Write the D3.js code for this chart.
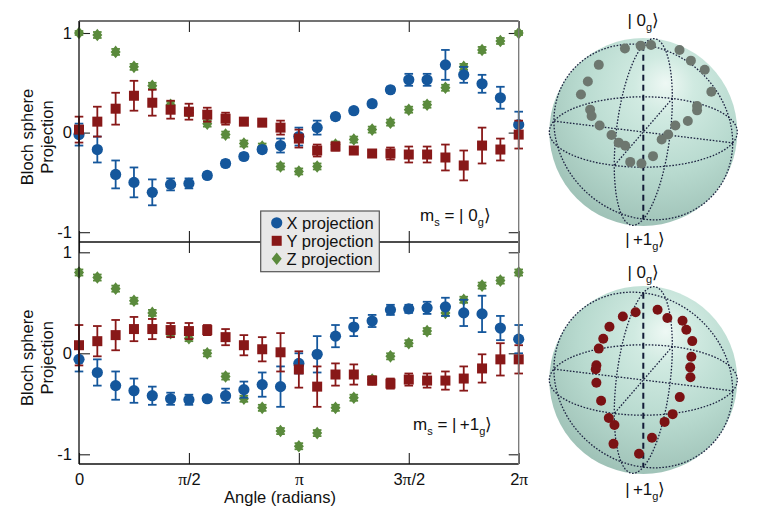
<!DOCTYPE html>
<html lang="en">
<head>
<meta charset="UTF-8">
<title>Bloch sphere projection</title>
<script src="https://cdn.jsdelivr.net/npm/d3@7"></script>
<style>
  body { margin: 0; background: #fff; }
  text { font-family: "Liberation Sans", Arial, Helvetica, sans-serif; fill: #111; }
</style>
</head>
<body>
<script>
// rotation angle of each measurement, degrees
var angleDeg = [0, 15, 30, 45, 60, 75, 90, 105, 120, 135, 150, 165, 180,
                195, 210, 225, 240, 255, 270, 285, 300, 315, 330, 345, 360];

// top panel, m_s = |0_g>
var topX    = [-0.02, -0.17, -0.42, -0.50, -0.60, -0.52, -0.51, -0.43, -0.31, -0.24, -0.17, -0.13, -0.04,
               0.05, 0.16, 0.22, 0.29, 0.43, 0.53, 0.53, 0.68, 0.58, 0.49, 0.35, 0.08];
var topXErr = [0.11, 0.13, 0.14, 0.15, 0.13, 0.06, 0.05, 0.03, 0.03, 0.03, 0.03, 0.07, 0.09,
               0.07, 0.03, 0.03, 0.03, 0.03, 0.06, 0.06, 0.15, 0.08, 0.09, 0.11, 0.13];
var topY    = [0.03, 0.11, 0.24, 0.37, 0.30, 0.23, 0.21, 0.18, 0.14, 0.11, 0.10, 0.05, -0.06,
               -0.18, -0.14, -0.18, -0.21, -0.21, -0.22, -0.22, -0.25, -0.33, -0.13, -0.17, -0.02];
var topYErr = [0.13, 0.15, 0.16, 0.15, 0.13, 0.09, 0.08, 0.07, 0.06, 0.03, 0.03, 0.07, 0.09,
               0.06, 0.04, 0.03, 0.03, 0.06, 0.08, 0.08, 0.13, 0.15, 0.18, 0.11, 0.14];
var topZ    = [1.00, 0.98, 0.81, 0.66, 0.47, 0.28, 0.20, 0.09, -0.02, -0.11, -0.14, -0.34, -0.39,
               -0.34, -0.12, -0.07, 0.03, 0.10, 0.23, 0.28, 0.45, 0.66, 0.83, 0.92, 1.00];
var topZErr = [0.02, 0.03, 0.03, 0.03, 0.03, 0.03, 0.03, 0.03, 0.03, 0.03, 0.03, 0.03, 0.03,
               0.03, 0.03, 0.03, 0.03, 0.03, 0.03, 0.03, 0.03, 0.03, 0.03, 0.03, 0.02];

// bottom panel, m_s = |+1_g>
var botX    = [-0.06, -0.19, -0.32, -0.37, -0.42, -0.45, -0.46, -0.45, -0.42, -0.36, -0.31, -0.33, -0.10,
               -0.01, 0.17, 0.26, 0.32, 0.43, 0.44, 0.45, 0.46, 0.40, 0.39, 0.25, 0.14];
var botXErr = [0.12, 0.13, 0.14, 0.12, 0.09, 0.06, 0.05, 0.03, 0.07, 0.08, 0.12, 0.20, 0.10,
               0.18, 0.11, 0.09, 0.06, 0.05, 0.04, 0.06, 0.09, 0.13, 0.18, 0.12, 0.14];
var botY    = [0.08, 0.12, 0.18, 0.24, 0.24, 0.23, 0.22, 0.23, 0.16, 0.08, 0.04, 0.01, -0.16,
               -0.33, -0.21, -0.21, -0.27, -0.30, -0.26, -0.27, -0.27, -0.25, -0.15, -0.06, -0.06];
var botYErr = [0.20, 0.15, 0.15, 0.12, 0.10, 0.07, 0.08, 0.05, 0.08, 0.10, 0.12, 0.19, 0.18,
               0.20, 0.11, 0.10, 0.04, 0.05, 0.06, 0.07, 0.09, 0.12, 0.14, 0.16, 0.14];
var botZ    = [0.80, 0.75, 0.64, 0.52, 0.40, 0.20, 0.15, 0.00, -0.23, -0.45, -0.54, -0.77, -0.92,
               -0.79, -0.54, -0.44, -0.26, -0.03, 0.10, 0.22, 0.40, 0.53, 0.67, 0.72, 0.80];
var botZErr = [0.03, 0.03, 0.03, 0.03, 0.03, 0.03, 0.03, 0.03, 0.03, 0.03, 0.03, 0.03, 0.03,
               0.03, 0.03, 0.03, 0.03, 0.03, 0.03, 0.03, 0.03, 0.03, 0.03, 0.03, 0.03];

var xTickValues = [0, Math.PI / 2, Math.PI, 3 * Math.PI / 2, 2 * Math.PI];
var xTickLabels = ["0", "π/2", "π", "3π/2", "2π"];
var yTickValues = [-1, 0, 1];
var yTickLabels = ["-1", "0", "1"];
var seriesNames = ["X projection", "Y projection", "Z projection"];
var colors = { X: "#15579c", Y: "#881818", Z: "#5a8a3c" };

var width = 780, height = 520;
var svg = d3.select("body").append("svg")
    .attr("width", width)
    .attr("height", height);

var x = d3.scaleLinear().domain([0, 2 * Math.PI]).range([79, 518.7]);
var left = 79, right = 518.7;

var panels = [
    { top: 21, bottom: 242, y: d3.scaleLinear().domain([-1, 1]).range([232.2, 33]),
      X: topX, XE: topXErr, Y: topY, YE: topYErr, Z: topZ, ZE: topZErr,
      ket: [["m", 0], ["s", 1], [" = | 0", 0], ["g", 1], ["\u27e9", 0]], kx: 420, ky: 221 },
    { top: 242, bottom: 464, y: d3.scaleLinear().domain([-1, 1]).range([454.3, 252.3]),
      X: botX, XE: botXErr, Y: botY, YE: botYErr, Z: botZ, ZE: botZErr,
      ket: [["m", 0], ["s", 1], [" = |\u2009+1", 0], ["g", 1], ["\u27e9", 0]], kx: 413, ky: 430 }
];

function rad(d) { return d * Math.PI / 180; }

// text with subscripts
function richText(g, parts, big, small) {
    var prevSub = false;
    parts.forEach(function (p) {
        var sub = p[1] === 1;
        var dy = sub && !prevSub ? 4.5 : (!sub && prevSub ? -4.5 : 0);
        g.append("tspan").attr("dy", dy).attr("font-size", sub ? small : big).text(p[0]);
        prevSub = sub;
    });
}

function diamond(cx, cy, w, h) {
    return "M" + cx + "," + (cy - h) + "L" + (cx + w) + "," + cy + "L" + cx + "," + (cy + h) + "L" + (cx - w) + "," + cy + "Z";
}

function drawMarkers(g, kind, px, py) {
    if (kind === "X") {
        g.append("circle").attr("cx", px).attr("cy", py).attr("r", 5.6).attr("fill", colors.X);
    } else if (kind === "Y") {
        g.append("rect").attr("x", px - 5).attr("y", py - 5).attr("width", 10).attr("height", 10).attr("fill", colors.Y);
    } else {
        g.append("path").attr("d", diamond(px, py, 5, 6.3)).attr("fill", colors.Z);
    }
}

panels.forEach(function (p) {
    var y = p.y;
    var g = svg.append("g");

    // inward ticks
    g.append("g").attr("transform", "translate(" + left + ",0)")
        .call(d3.axisLeft(y).tickValues(yTickValues).tickSizeInner(-11).tickSizeOuter(0).tickPadding(7)
            .tickFormat(function (d, i) { return yTickLabels[i]; }));
    g.append("g").attr("transform", "translate(" + right + ",0)")
        .call(d3.axisRight(y).tickValues(yTickValues).tickSizeInner(-10).tickSizeOuter(0).tickFormat(""));
    g.append("g").attr("transform", "translate(0," + p.top + ")")
        .call(d3.axisTop(x).tickValues(xTickValues).tickSizeInner(-11).tickSizeOuter(0).tickFormat(""));
    var xb = g.append("g").attr("transform", "translate(0," + p.bottom + ")")
        .call(d3.axisBottom(x).tickValues(xTickValues).tickSizeInner(-11).tickSizeOuter(0).tickPadding(9)
            .tickFormat(p.bottom > 400 ? function (d, i) { return xTickLabels[i]; } : ""));
    g.selectAll(".domain").remove();
    g.selectAll(".tick line").attr("stroke", "#222").attr("stroke-width", 1.1);
    g.selectAll(".tick text").attr("font-size", 16.5).attr("fill", "#111")
        .attr("font-family", "'Liberation Sans', Arial, sans-serif");

    // pi in a serif face, like the original
    xb.selectAll(".tick text").each(function () {
        var t = d3.select(this), s = t.text();
        if (s.indexOf("π") < 0) return;
        var bits = s.split("π");
        t.text(null);
        t.append("tspan").text(bits[0]);
        t.append("tspan").attr("font-family", "'Liberation Serif', 'Times New Roman', serif").attr("font-size", 17.5).text("π");
        t.append("tspan").text(bits[1]);
    });

    // y title
    [["Bloch sphere", 33], ["Projection", 52.5]].forEach(function (t) {
        svg.append("text")
            .attr("transform", "translate(" + t[1] + "," + (y(0) + 4.5) + ") rotate(-90)")
            .attr("text-anchor", "middle").attr("font-size", 16.5).text(t[0]);
    });

    // series: Z first, then X, then Y on top
    var idx = d3.range(angleDeg.length);
    ["Z", "X", "Y"].forEach(function (k) {
        var vals = p[k], errs = p[k + "E"];
        var sg = g.append("g");
        idx.forEach(function (i) {
            var px = x(rad(angleDeg[i]));
            var y0 = y(vals[i] - errs[i]), y1 = y(vals[i] + errs[i]);
            sg.append("line").attr("x1", px).attr("x2", px).attr("y1", y0).attr("y2", y1)
                .attr("stroke", colors[k]).attr("stroke-width", 1.8);
            [y0, y1].forEach(function (yy) {
                sg.append("line").attr("x1", px - 4.3).attr("x2", px + 4.3).attr("y1", yy).attr("y2", yy)
                    .attr("stroke", colors[k]).attr("stroke-width", 1.8);
            });
            drawMarkers(sg, k, px, y(vals[i]));
        });
    });

    var kt = svg.append("text").attr("x", p.kx).attr("y", p.ky).attr("font-size", 17).attr("fill", "#222");
    richText(kt, p.ket, 17, 11);
});

// frame
svg.append("line").attr("x1", left).attr("x2", left).attr("y1", 21).attr("y2", 464).attr("stroke", "#111").attr("stroke-width", 1.3);
svg.append("line").attr("x1", left).attr("x2", right).attr("y1", 464).attr("y2", 464).attr("stroke", "#111").attr("stroke-width", 1.3);
svg.append("line").attr("x1", left).attr("x2", right).attr("y1", 242).attr("y2", 242).attr("stroke", "#111").attr("stroke-width", 1.3);
svg.append("line").attr("x1", left).attr("x2", right).attr("y1", 21).attr("y2", 21).attr("stroke", "#444").attr("stroke-width", 1.3);
svg.append("line").attr("x1", right).attr("x2", right).attr("y1", 21).attr("y2", 464).attr("stroke", "#777").attr("stroke-width", 1.3);

// x title
svg.append("text").attr("x", 280).attr("y", 503).attr("text-anchor", "middle").attr("font-size", 16.5).text("Angle (radians)");

// legend
var lg = svg.append("g");
lg.append("rect").attr("x", 260.7).attr("y", 211).attr("width", 118.6).attr("height", 60.7)
    .attr("fill", "#e8e8e8").attr("stroke", "#555").attr("stroke-width", 1.2);
["X", "Y", "Z"].forEach(function (k, i) {
    var cy = 222.8 + i * 18;
    drawMarkers(lg, k, 276.7, cy);
    lg.append("text").attr("x", 286.5).attr("y", cy + 5.8).attr("font-size", 16.5).text(seriesNames[i]);
});

// Bloch spheres
var defs = svg.append("defs");
var grad = defs.append("radialGradient").attr("id", "sph")
    .attr("cx", "58%").attr("cy", "32%").attr("r", "72%").attr("fx", "62%").attr("fy", "24%");
[["0%", "#eef8f4"], ["22%", "#d0eae1"], ["60%", "#b8dacf"], ["100%", "#9dc0b5"]].forEach(function (s) {
    grad.append("stop").attr("offset", s[0]).attr("stop-color", s[1]);
});

var R = 94, elev = rad(22), thX = rad(18);
function proj(v) {
    var sx = v[0] * Math.cos(thX) + v[1] * Math.cos(thX + Math.PI / 2);
    var sd = v[0] * Math.sin(thX) + v[1] * Math.sin(thX + Math.PI / 2);
    return [R * sx, R * (sd * Math.sin(elev) - v[2] * Math.cos(elev))];
}

var spheres = [
    { cx: 643.3, cy: 132, X: topX, Y: topY, Z: topZ, dot: "#6d776f",
      lt: 26, lb: 245 },
    { cx: 643.3, cy: 380, X: botX, Y: botY, Z: botZ, dot: "#7b1214",
      lt: 278, lb: 495 }
];

var ts = d3.range(0, 361, 3).map(rad);
var line = d3.line();

spheres.forEach(function (s) {
    var g = svg.append("g").attr("transform", "translate(" + s.cx + "," + s.cy + ")");
    g.append("circle").attr("r", R).attr("fill", "url(#sph)");

    var circles = [
        function (t) { return [Math.cos(t), Math.sin(t), 0]; },
        function (t) { return [Math.cos(t), 0, Math.sin(t)]; },
        function (t) { return [0, Math.cos(t), Math.sin(t)]; }
    ];
    circles.forEach(function (f) {
        g.append("path").attr("d", line(ts.map(function (t) { return proj(f(t)); })))
            .attr("fill", "none").attr("stroke", "#1c2240").attr("stroke-width", 1.3)
            .attr("stroke-dasharray", "1.6,1.6");
    });
    [[1, 0, 0], [0, 1, 0]].forEach(function (a) {
        g.append("path").attr("d", line([proj(a.map(function (c) { return -c; })), proj(a)]))
            .attr("fill", "none").attr("stroke", "#1c2240").attr("stroke-width", 1.3)
            .attr("stroke-dasharray", "1.6,1.6");
    });
    g.append("path").attr("d", line([proj([0, 0, 1]), proj([0, 0, -1])]))
        .attr("stroke", "#121a36").attr("stroke-width", 2).attr("stroke-dasharray", "6,4");

    g.selectAll("circle.pt").data(d3.range(s.X.length)).enter().append("circle")
        .attr("class", "pt")
        .attr("cx", function (i) { return proj([s.X[i], s.Y[i], s.Z[i]])[0]; })
        .attr("cy", function (i) { return proj([s.X[i], s.Y[i], s.Z[i]])[1]; })
        .attr("r", 5).attr("fill", s.dot);

    var t1 = svg.append("text").attr("x", s.cx).attr("y", s.lt).attr("text-anchor", "middle").attr("font-size", 17).attr("fill", "#222");
    richText(t1, [["| 0", 0], ["g", 1], ["\u27e9", 0]], 17, 11);
    var t2 = svg.append("text").attr("x", s.cx + 2).attr("y", s.lb).attr("text-anchor", "middle").attr("font-size", 17).attr("fill", "#222");
    richText(t2, [["|\u2009+1", 0], ["g", 1], ["\u27e9", 0]], 17, 11);
});
</script>
</body>
</html>
